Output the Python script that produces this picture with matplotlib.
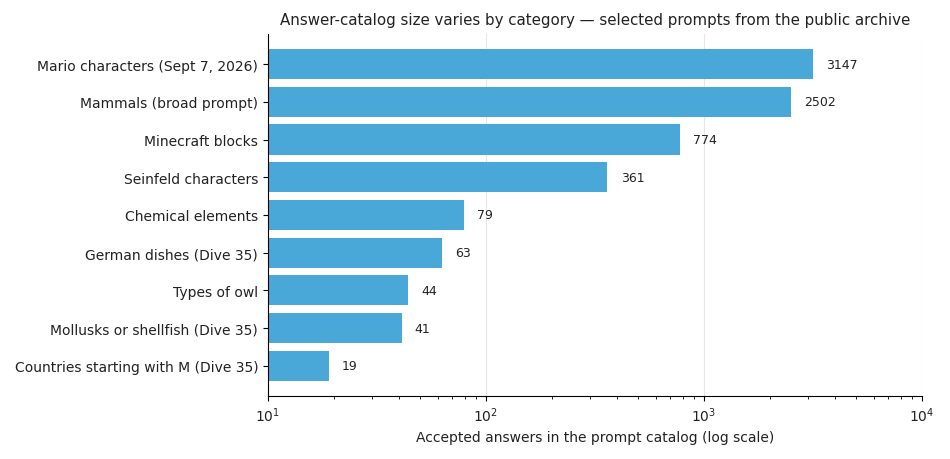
import matplotlib
matplotlib.use("Agg")
import matplotlib.pyplot as plt

categories = [
    "Mario characters (Sept 7, 2026)",
    "Mammals (broad prompt)",
    "Minecraft blocks",
    "Seinfeld characters",
    "Chemical elements",
    "German dishes (Dive 35)",
    "Types of owl",
    "Mollusks or shellfish (Dive 35)",
    "Countries starting with M (Dive 35)",
]
values = [3147, 2502, 774, 361, 79, 63, 44, 41, 19]

txt = "#222222"
plt.rcParams["text.color"] = txt
plt.rcParams["xtick.labelcolor"] = txt
plt.rcParams["ytick.labelcolor"] = txt
plt.rcParams["axes.labelcolor"] = txt

fig = plt.figure(figsize=(9.5, 4.6), dpi=100)
ax = fig.add_axes([0.282, 0.137, 0.6885, 0.787])
y = list(range(len(categories)))
ax.barh(y, values, height=0.8, color="#4aa8d9", zorder=2)
ax.set_xscale("log")
ax.set_xlim(10, 10000)
ax.set_ylim(len(categories) - 0.2, -0.8)
ax.set_yticks(y)
ax.set_yticklabels(categories, fontsize=10)
ax.tick_params(axis="x", labelsize=10)
for yi, v in zip(y, values):
    ax.annotate(str(v), (v, yi), xytext=(9.5, 0), textcoords="offset points",
                va="center", ha="left", fontsize=9)
ax.grid(axis="x", which="major", color="#e6e6e6", linewidth=0.8, zorder=0)
ax.set_axisbelow(True)
ax.spines["top"].set_visible(False)
ax.spines["right"].set_visible(False)
ax.set_xlabel("Accepted answers in the prompt catalog (log scale)", fontsize=10)
ax.set_title("Answer-catalog size varies by category — selected prompts from the public archive",
             fontsize=10.8, pad=7)
fig.savefig("out.png", dpi=100)
